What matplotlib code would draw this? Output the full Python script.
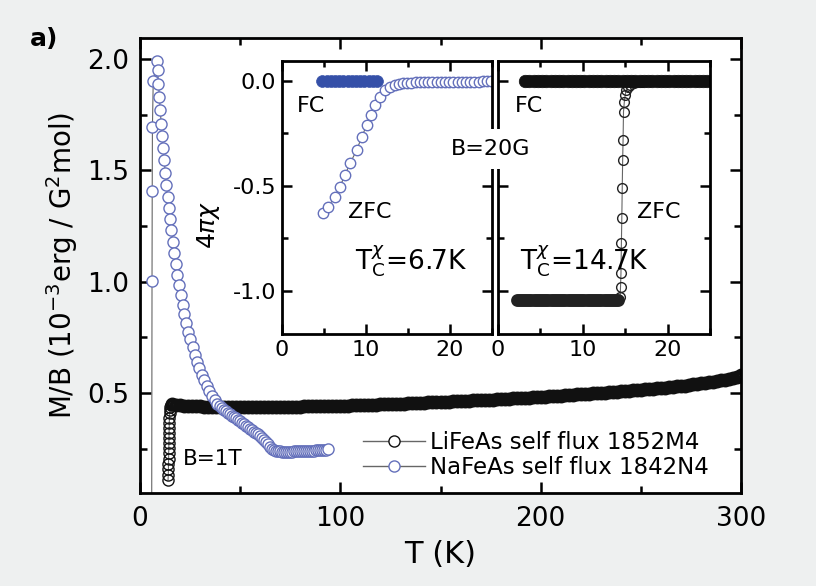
import numpy as np
import matplotlib.pyplot as plt
from matplotlib.lines import Line2D
from matplotlib.ticker import MultipleLocator

plt.rcParams['font.family'] = ['DejaVu Sans']
plt.rcParams['axes.unicode_minus'] = False
plt.rcParams['mathtext.fontset'] = 'dejavusans'

BLACK = '#111111'
BLUE = '#6470bb'
BLUE_FILL = '#3550a8'
LINE = '#666666'

# ---- main panel: M/B at B = 1 T ----
# LiFeAs, drop below Tc
li_T_low = [14.0, 14.1, 14.2, 14.2, 14.3, 14.3, 14.4, 14.4, 14.5, 14.5,
            14.6, 14.6, 14.7, 14.8, 14.9, 15.1, 15.4]
li_M_low = [0.109, 0.132, 0.157, 0.181, 0.205, 0.229, 0.251, 0.274, 0.296, 0.319,
            0.341, 0.364, 0.386, 0.409, 0.424, 0.437, 0.447]
# LiFeAs, normal state 16..300 K every 2 K
li_T = np.arange(16, 301, 2)
li_M = [0.452, 0.447, 0.444, 0.442, 0.441, 0.440, 0.439, 0.439, 0.438, 0.438,
        0.437, 0.437, 0.437, 0.436, 0.436, 0.436, 0.436, 0.436, 0.436, 0.436,
        0.436, 0.436, 0.436, 0.436, 0.436, 0.437, 0.437, 0.437, 0.437, 0.438,
        0.438, 0.438, 0.438, 0.439, 0.439, 0.439, 0.440, 0.440, 0.440, 0.441,
        0.441, 0.442, 0.442, 0.443, 0.443, 0.444, 0.444, 0.445, 0.445, 0.446,
        0.447, 0.447, 0.448, 0.449, 0.449, 0.450, 0.451, 0.451, 0.452, 0.453,
        0.454, 0.454, 0.455, 0.456, 0.457, 0.458, 0.458, 0.459, 0.460, 0.461,
        0.462, 0.463, 0.463, 0.464, 0.465, 0.466, 0.467, 0.467, 0.468, 0.469,
        0.470, 0.471, 0.472, 0.473, 0.474, 0.475, 0.476, 0.477, 0.478, 0.479,
        0.480, 0.481, 0.482, 0.483, 0.484, 0.486, 0.487, 0.488, 0.489, 0.490,
        0.492, 0.493, 0.494, 0.495, 0.496, 0.498, 0.499, 0.500, 0.501, 0.503,
        0.504, 0.506, 0.507, 0.508, 0.510, 0.511, 0.513, 0.514, 0.516, 0.517,
        0.519, 0.520, 0.522, 0.524, 0.525, 0.527, 0.529, 0.531, 0.533, 0.535,
        0.538, 0.540, 0.543, 0.545, 0.548, 0.551, 0.553, 0.556, 0.560, 0.563,
        0.567, 0.572, 0.580]

# NaFeAs (first point lies below the visible range)
na_T = [5.8, 6.0, 6.1, 6.2, 6.6,
        8.3, 8.8, 9.2, 9.7, 10.1, 10.6, 11.1, 11.6, 12.1, 12.6,
        13.2, 13.8, 14.4, 15.0, 15.7, 16.4, 17.1, 17.9, 18.7, 19.5,
        20.4, 21.3, 22.2, 23.2, 24.2, 25.2, 26.3, 27.4, 28.5, 29.7,
        30.9, 32.1, 33.3, 34.6, 35.9, 37.2, 38.5,
        40, 41, 42, 43, 44, 45, 46, 47, 48, 49,
        50, 51, 52, 53, 54, 55, 56, 57, 58, 59,
        60, 61, 62, 63, 64, 65, 66, 67, 68, 69,
        70, 71, 72, 73, 74, 75, 76, 77, 78, 79,
        80, 81, 82, 83, 84, 85, 86, 87, 88, 89,
        90, 91, 92, 93, 94]
na_M = [-0.3, 1.003, 1.408, 1.693, 1.900,
        1.99, 1.95, 1.89, 1.83, 1.77, 1.71, 1.655, 1.60, 1.545, 1.49,
        1.435, 1.38, 1.33, 1.28, 1.23, 1.18, 1.13, 1.08, 1.03, 0.985,
        0.94, 0.895, 0.855, 0.815, 0.775, 0.74, 0.705, 0.672, 0.64, 0.61,
        0.582, 0.556, 0.532, 0.509, 0.488, 0.469, 0.451,
        0.440, 0.432, 0.425, 0.418, 0.411, 0.405, 0.398, 0.392, 0.385, 0.379,
        0.372, 0.366, 0.359, 0.352, 0.346, 0.339, 0.332, 0.326, 0.319, 0.313,
        0.306, 0.298, 0.289, 0.279, 0.268, 0.258, 0.250, 0.244, 0.240, 0.238,
        0.237, 0.236, 0.236, 0.236, 0.236, 0.236, 0.236, 0.237, 0.237, 0.237,
        0.238, 0.238, 0.239, 0.239, 0.240, 0.240, 0.241, 0.241, 0.242, 0.242,
        0.243, 0.244, 0.244, 0.245, 0.246]

# ---- insets: 4*pi*chi at B = 20 G ----
na_fc_T = [4.8, 5.3, 5.8, 6.3, 6.8, 7.3, 7.8, 8.3, 8.8, 9.3, 9.8, 10.3, 10.8, 11.3]
na_fc_X = [0.0, 0.0, 0.0, 0.0, 0.0, 0.0, 0.0, 0.0, 0.0, 0.0, 0.0, 0.0, 0.0, 0.0]
na_zfc_T = [4.9, 5.5, 6.3, 6.9, 7.5, 8.1, 8.9, 9.5, 10.1, 10.6, 11.1, 11.7, 12.3, 12.9,
            13.4, 13.9, 14.4, 14.9, 15.4, 15.9, 16.4, 16.9, 17.4, 17.9, 18.4, 18.9,
            19.4, 19.9, 20.4, 20.9, 21.4, 21.9, 22.4, 22.9, 23.4, 23.9, 24.4, 24.9]
na_zfc_X = [-0.627, -0.598, -0.551, -0.503, -0.448, -0.392, -0.329, -0.265, -0.210,
            -0.162, -0.114, -0.075, -0.043, -0.027,
            -0.018, -0.013, -0.010, -0.009, -0.008, -0.007, -0.007, -0.006, -0.006,
            -0.005, -0.005, -0.005, -0.004, -0.004, -0.004, -0.004, -0.003, -0.003,
            -0.003, -0.003, -0.003, -0.002, -0.002, -0.002]

li_fc_T = np.arange(3.2, 25.3, 0.5)
li_fc_X = [0.0, 0.0, 0.0, 0.0, 0.0, 0.0, 0.0, 0.0, 0.0, 0.0,
           0.0, 0.0, 0.0, 0.0, 0.0, 0.0, 0.0, 0.0, 0.0, 0.0,
           0.0, 0.0, 0.0, 0.0, 0.0, 0.0, 0.0, 0.0, 0.0, 0.0,
           0.0, 0.0, 0.0, 0.0, 0.0, 0.0, 0.0, 0.0, 0.0, 0.0,
           0.0, 0.0, 0.0, 0.0, 0.0]
# ZFC plateau below Tc
li_zfc_T_low = np.arange(2.2, 14.25, 0.25)
li_zfc_X_low = [-1.045, -1.045, -1.045, -1.045, -1.045, -1.045, -1.045, -1.045, -1.045, -1.045,
                -1.045, -1.045, -1.045, -1.045, -1.045, -1.045, -1.045, -1.045, -1.045, -1.045,
                -1.045, -1.045, -1.045, -1.045, -1.045, -1.045, -1.045, -1.045, -1.045, -1.045,
                -1.045, -1.045, -1.045, -1.045, -1.045, -1.045, -1.045, -1.045, -1.045, -1.045,
                -1.045, -1.045, -1.045, -1.045, -1.045, -1.045, -1.045, -1.045, -1.045]
# ZFC transition and above
li_zfc_T = [14.4, 14.45, 14.5, 14.55, 14.6, 14.65, 14.7, 14.75, 14.8, 14.9,
            15.0, 15.1, 15.3, 15.6, 16.0, 16.5, 17.0, 18.0, 19.0, 20.0,
            21.0, 22.0, 23.0, 24.0, 25.0]
li_zfc_X = [-1.027, -0.979, -0.916, -0.773, -0.654, -0.511, -0.376, -0.281, -0.146, -0.098,
            -0.067, -0.043, -0.028, -0.018, -0.010, -0.005, -0.003, -0.002, -0.002, -0.001,
            -0.001, -0.001, -0.001, -0.001, -0.001]


def style_axes(ax, labelsize, major, minor):
    for sp in ax.spines.values():
        sp.set_linewidth(2)
    ax.tick_params(which='both', direction='in', top=True, right=True,
                   width=1.8, labelsize=labelsize)
    ax.tick_params(which='major', length=major)
    ax.tick_params(which='minor', length=minor)


fig = plt.figure(figsize=(8.16, 5.86), dpi=100, facecolor='#eef0f0')

ax = fig.add_axes([140 / 816, 93 / 586, 601 / 816, 455 / 586])
ax.plot(np.concatenate([li_T_low, li_T]), np.concatenate([li_M_low, li_M]),
        '-', color=LINE, lw=0.8)
ax.plot(li_T_low, li_M_low, 'o', ms=8, mfc='none', mec=BLACK, mew=1.0)
ax.plot(li_T, li_M, 'o', ms=7, mfc='none', mec=BLACK, mew=3.0)
ax.plot(na_T, na_M, '-o', color=LINE, lw=0.8, ms=8, mfc='white', mec=BLUE, mew=1.0)

ax.set_xlim(0, 300)
ax.set_ylim(0.05, 2.095)
ax.xaxis.set_major_locator(MultipleLocator(100))
ax.xaxis.set_minor_locator(MultipleLocator(50))
ax.yaxis.set_major_locator(MultipleLocator(0.5))
ax.yaxis.set_minor_locator(MultipleLocator(0.25))
style_axes(ax, 19, 8, 5)
ax.tick_params(axis='x', pad=9)
ax.tick_params(axis='y', pad=8)
ax.set_xlabel('T (K)', fontsize=22, labelpad=6)
ax.set_ylabel(r'M/B (10$^{-3}$erg / G$^{2}$mol)', fontsize=20)
ax.yaxis.set_label_coords(-0.1, 0.5)

ax.text(21.5, 0.177, 'B=1T', fontsize=15.5)

handles = [Line2D([], [], color=LINE, lw=1, marker='o', ms=8, mfc='white', mec=BLACK, mew=1),
           Line2D([], [], color=LINE, lw=1, marker='o', ms=8, mfc='white', mec=BLUE, mew=1)]
ax.legend(handles, ['LiFeAs self flux 1852M4', 'NaFeAs self flux 1842N4'],
          loc='lower left', bbox_to_anchor=(0.371, 0.03), frameon=False,
          fontsize=16.5, handlelength=2.7, handletextpad=0.22, labelspacing=0.12,
          borderpad=0, borderaxespad=0, numpoints=1)

# insets
in1 = fig.add_axes([282 / 816, 252 / 586, 210 / 816, 273 / 586], zorder=2)
in2 = fig.add_axes([498 / 816, 252 / 586, 212 / 816, 273 / 586], zorder=2)

in1.plot(na_fc_T, na_fc_X, 'o', ms=8.5, color=BLUE_FILL, mec=BLUE_FILL, mew=0.5)
in1.plot(na_zfc_T, na_zfc_X, '-o', color=LINE, lw=0.8, ms=7.5, mfc='white', mec=BLUE, mew=1.0)

in2.plot(np.concatenate([li_zfc_T_low, li_zfc_T]), np.concatenate([li_zfc_X_low, li_zfc_X]),
         '-', color=LINE, lw=0.8)
in2.plot(li_zfc_T_low, li_zfc_X_low, 'o', ms=7, mfc='none', mec='#222222', mew=2.2)
in2.plot(li_zfc_T, li_zfc_X, 'o', ms=7, mfc='none', mec='#222222', mew=1.0)
in2.plot(li_fc_T, li_fc_X, 'o', ms=9, color=BLACK, mec=BLACK, mew=0.5)

for a in (in1, in2):
    a.set_xlim(0, 25)
    a.set_ylim(-1.205, 0.095)
    a.xaxis.set_major_locator(MultipleLocator(10))
    a.xaxis.set_minor_locator(MultipleLocator(5))
    a.yaxis.set_major_locator(MultipleLocator(0.5))
    a.yaxis.set_minor_locator(MultipleLocator(0.25))
    style_axes(a, 16, 7, 4)
    a.tick_params(pad=4)
in2.tick_params(labelleft=False)

in1.set_ylabel(r'$4\pi\chi$', fontsize=18)
in1.yaxis.set_label_coords(-0.286, 0.40)

in1.text(1.8, -0.148, 'FC', fontsize=16)
in1.text(7.8, -0.652, 'ZFC', fontsize=16)
in1.text(8.7, -0.9, r'T$_{\mathregular{C}}^{\chi}$=6.7K', fontsize=19)
in2.text(2.0, -0.148, 'FC', fontsize=16)
in2.text(16.4, -0.652, 'ZFC', fontsize=16)
in2.text(2.6, -0.9, r'T$_{\mathregular{C}}^{\chi}$=14.7K', fontsize=19, zorder=5)

fig.text(491 / 816, 1 - 149 / 586, 'B=20G', ha='center', va='center', fontsize=16,
         bbox=dict(fc='white', ec='none', pad=7), zorder=10)
fig.text(30 / 816, 1 - 39 / 586, 'a)', fontsize=18, fontweight='bold', va='center')

fig.savefig('out.png', dpi=100, facecolor=fig.get_facecolor())
